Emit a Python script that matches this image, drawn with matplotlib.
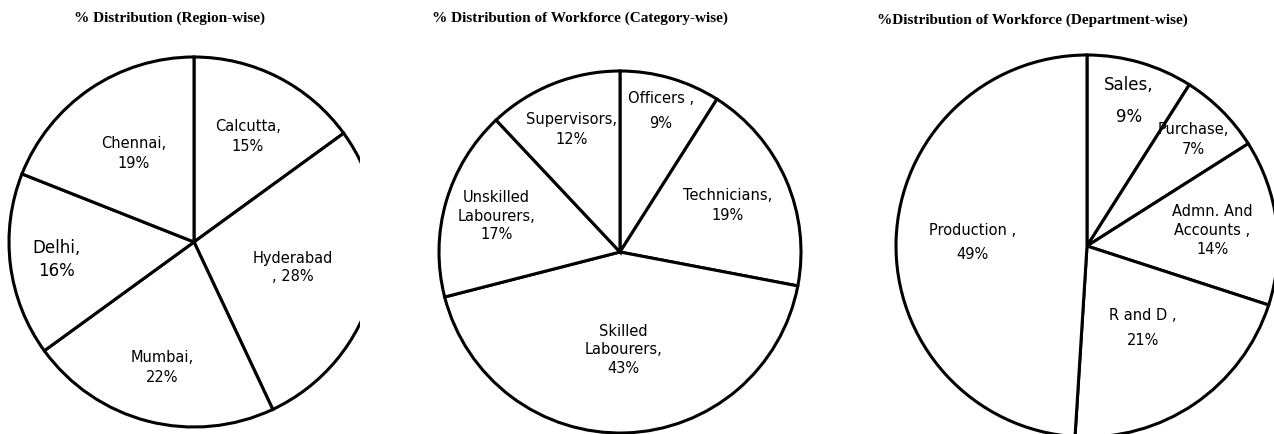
import matplotlib
matplotlib.use('Agg')
import matplotlib.pyplot as plt
import numpy as np

# Region-wise distribution
region_names = ['Calcutta,\n', 'Hyderabad\n, ', 'Mumbai,\n', 'Delhi,\n', 'Chennai,\n']
region_values = [15, 28, 22, 16, 19]

# Category-wise distribution of workforce
category_names = ['Officers ,\n', 'Technicians,\n', 'Skilled\nLabourers,\n',
                  'Unskilled\nLabourers,\n', 'Supervisors,\n']
category_values = [9, 19, 43, 17, 12]

# Department-wise distribution of workforce
dept_names = ['Sales,\n', 'Purchase,\n', 'Admn. And\nAccounts ,\n', 'R and D ,\n', 'Production ,\n']
dept_values = [9, 7, 14, 21, 49]

titles = ['% Distribution (Region-wise)',
          '% Distribution of Workforce (Category-wise)',
          '%Distribution of Workforce (Department-wise)']

W, H = 1274, 434
fig = plt.figure(figsize=(W / 100, H / 100), dpi=100)
fig.patch.set_facecolor('white')

# layout in pixels: axes x-range, pie centre, radius, title centre
panels = [
    dict(x0=0, x1=360, c=(194, 242), r=185, tx=169, ty=18,
         names=region_names, vals=region_values,
         dist=[0.64, 0.55, 0.70, 0.75, 0.58],
         size=[10.5, 10.5, 10.5, 12, 10.5], ls=[1.4, 1.3, 1.4, 1.4, 1.4]),
    dict(x0=360, x1=850, c=(620, 252), r=181, tx=580, ty=18,
         names=category_names, vals=category_values,
         dist=[0.81, 0.65, 0.54, 0.71, 0.73],
         size=[10.5, 10.5, 10.5, 10.5, 10.5], ls=[1.8, 1.4, 1.3, 1.3, 1.4]),
    dict(x0=850, x1=1274, c=(1087, 246), r=191, tx=1032, ty=20,
         names=dept_names, vals=dept_values,
         dist=[0.79, 0.79, 0.66, 0.52, 0.60],
         size=[12, 10.5, 10.5, 10.5, 10.5], ls=[2.0, 1.4, 1.35, 1.8, 1.75]),
]

for i, p in enumerate(panels):
    ax = fig.add_axes([p['x0'] / W, 0, (p['x1'] - p['x0']) / W, 1])
    cx, cy = p['c'][0], H - p['c'][1]
    wedges, _ = ax.pie(p['vals'], startangle=90, counterclock=False,
                       center=(cx, cy), radius=p['r'],
                       wedgeprops=dict(facecolor='white', edgecolor='black', linewidth=2.2))
    for w in wedges:
        w.set_clip_on(True)  # pie turns clipping off; the reference is cropped
    ax.set_aspect('auto')
    ax.set_xlim(p['x0'], p['x1'])
    ax.set_ylim(0, H)
    ax.axis('off')

    for w, name, v, d, fs, ls in zip(wedges, p['names'], p['vals'], p['dist'], p['size'], p['ls']):
        mid = np.deg2rad((w.theta1 + w.theta2) / 2)
        x = cx + d * p['r'] * np.cos(mid)
        y = cy + d * p['r'] * np.sin(mid)
        ax.text(x, y, f"{name}{v}%", ha='center', va='center', multialignment='center',
                fontsize=fs, linespacing=ls, family='DejaVu Sans', color='black')

    ax.text(p['tx'], H - p['ty'], titles[i], ha='center', va='center',
            fontsize=11, fontweight='bold', family='Liberation Serif')

fig.savefig('out.png', dpi=100, facecolor='white')
